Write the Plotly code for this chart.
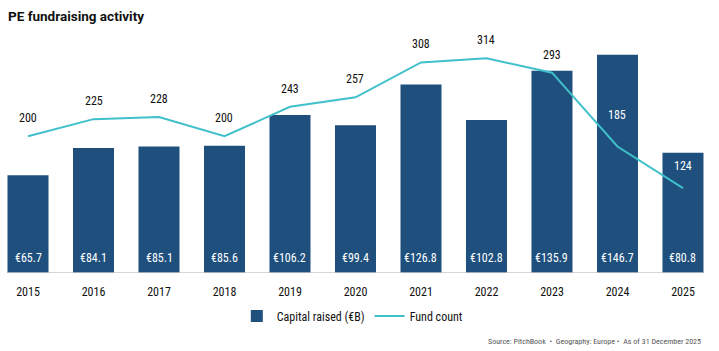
import plotly.graph_objects as go

years = ["2015", "2016", "2017", "2018", "2019", "2020", "2021", "2022", "2023", "2024", "2025"]
capital_raised = [65.7, 84.1, 85.1, 85.6, 106.2, 99.4, 126.8, 102.8, 135.9, 146.7, 80.8]
fund_count = [200, 225, 228, 200, 243, 257, 308, 314, 293, 185, 124]

BAR = "#1E4F7D"
LINE = "#3FC0CA"
FONT = "Roboto Condensed, Liberation Sans Narrow, Roboto, sans-serif"

# label styling: extra vertical offset / colour for labels sitting on bars
label_shift = {9: 32, 10: 22}
label_white = {9, 10}

fig = go.Figure()
fig.add_trace(go.Bar(
    x=years, y=capital_raised, name="Capital raised (€B)",
    marker=dict(color=BAR, line=dict(width=0)),
    hoverinfo="skip",
))
fig.add_trace(go.Scatter(
    x=years, y=fund_count, name="Fund count", yaxis="y2",
    mode="lines", line=dict(color=LINE, width=2),
    hoverinfo="skip",
))

ann = []
for i, v in enumerate(capital_raised):
    ann.append(dict(x=i, y=0, xref="x", yref="y", text=f"€{v:.1f}",
                    showarrow=False, yshift=15, yanchor="middle",
                    font=dict(family=FONT, size=12, color="white")))
for i, v in enumerate(fund_count):
    ann.append(dict(x=i, y=v, xref="x", yref="y2", text=str(v),
                    showarrow=False, yshift=label_shift.get(i, 18), yanchor="middle",
                    font=dict(family=FONT, size=12,
                              color="white" if i in label_white else "#111111")))
ann.append(dict(x=6, y=16, xref="paper", yref="paper", text="<b>PE fundraising activity</b>",
                showarrow=False, xanchor="left", yanchor="middle",
                font=dict(family="Roboto, sans-serif", size=13.5, color="#111111")))
ann.append(dict(x=703, y=341, xref="paper", yref="paper",
                text="Source: PitchBook  •  Geography: Europe •  As of 31 December 2025",
                showarrow=False, xanchor="right", yanchor="middle",
                font=dict(family=FONT, size=8, color="#555555")))

# convert pixel-positioned paper annotations
W, H = 719, 351
L, R, T, B = 0, 0, 20, 78
for a in ann:
    if a["xref"] == "paper":
        a["x"] = (a["x"] - L) / (W - L - R)
        a["y"] = (H - B - a["y"]) / (H - T - B)

bw = 1 - 0.374
fig.add_shape(type="line", xref="x", yref="y", x0=-bw / 2, x1=len(years) - 1 + bw / 2,
              y0=0, y1=0, line=dict(color="#C8C8C8", width=1.5))

fig.update_layout(
    width=W, height=H,
    margin=dict(l=L, r=R, t=T, b=B),
    paper_bgcolor="white", plot_bgcolor="white",
    bargap=0.374,
    showlegend=True,
    legend=dict(orientation="h", x=0.49, xanchor="center", y=-0.17, yanchor="middle",
                font=dict(family=FONT, size=12, color="#111111"),
                itemwidth=30, tracegroupgap=0),
    xaxis=dict(type="category", range=[-0.4275, 10.55], showgrid=False, zeroline=False,
               showline=False, ticks="", tickfont=dict(family=FONT, size=12, color="#111111"),
               ticklabelstandoff=10),
    yaxis=dict(range=[0, 170.1], visible=False, showgrid=False, zeroline=False),
    yaxis2=dict(range=[0, 370], overlaying="y", visible=False, showgrid=False, zeroline=False),
    annotations=ann,
    font=dict(family=FONT),
)

fig.write_html("out.html")
